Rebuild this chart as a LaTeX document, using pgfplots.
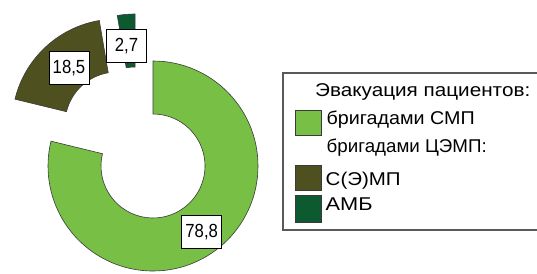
\documentclass[border=0pt]{standalone}
\usepackage{pgfplots}
\pgfplotsset{compat=1.18}
\usepackage{graphicx}
\usepackage{fontspec}
\setmainfont{Liberation Sans}
\newfontfamily\labfont[FakeStretch=0.88]{Liberation Sans}
\definecolor{cSMP}{HTML}{77BF45}
\definecolor{cSEMP}{HTML}{4F5020}
\definecolor{cAMB}{HTML}{0E5A30}
\definecolor{cEdge}{HTML}{3A3A3A}
\newcommand\fitw[2]{\resizebox{#1}{\height}{#2}}
\begin{document}
\begin{tikzpicture}
% data (percent)
\def\vA{78.8}\def\vB{18.5}\def\vC{2.7}
\pgfmathsetmacro\aO{90}
\pgfmathsetmacro\aA{\aO-3.6*\vA}
\pgfmathsetmacro\aB{\aA-3.6*\vB}
\pgfmathsetmacro\aC{\aB-3.6*\vC}
\def\Ro{105bp}\def\Ri{52bp}
\begin{axis}[name=ax, x=1bp, y=1bp, xmin=0, xmax=537, ymin=0, ymax=273,
  hide axis, clip=false]
  \coordinate (cA) at (axis cs:153,107);
  \coordinate (cB) at (axis cs:117,149);
  \coordinate (cC) at (axis cs:135,154);
  % slices
  \filldraw[fill=cSMP, draw=cEdge, line width=0.6bp]
    ([shift={(\aO:\Ro)}]cA) arc[start angle=\aO, end angle=\aA, radius=\Ro]
    -- ([shift={(\aA:\Ri)}]cA) arc[start angle=\aA, end angle=\aO, radius=\Ri] -- cycle;
  \filldraw[fill=cSEMP, draw=cEdge, line width=0.6bp]
    ([shift={(\aA:\Ro)}]cB) arc[start angle=\aA, end angle=\aB, radius=\Ro]
    -- ([shift={(\aB:\Ri)}]cB) arc[start angle=\aB, end angle=\aA, radius=\Ri] -- cycle;
  \filldraw[fill=cAMB, draw=cEdge, line width=0.6bp]
    ([shift={(\aB:\Ro)}]cC) arc[start angle=\aB, end angle=\aC, radius=\Ro]
    -- ([shift={(\aC:\Ri)}]cC) arc[start angle=\aC, end angle=\aB, radius=\Ri] -- cycle;
  % value labels
  \tikzset{vlab/.style={draw=black, fill=white, line width=0.8bp, font=\labfont\fontsize{19bp}{19bp}\selectfont,
     inner sep=0pt, minimum width=40bp, minimum height=33bp}}
  \node[vlab] at (axis cs:201.7,40.7) {78,8};
  \node[vlab] at (axis cs:69,204.7) {18,5};
  \node[vlab] at (axis cs:126.5,227) {2,7};
  % legend
  \draw[draw=black!65, line width=1.3bp, fill=white] (axis cs:283,43) rectangle (axis cs:545,200);
  \tikzset{ltxt/.style={anchor=base west, inner sep=0pt, font=\fontsize{18.5bp}{18.5bp}\selectfont}}
  \node[ltxt] at (axis cs:315,176.7) {\fitw{215bp}{Эвакуация пациентов:}};
  \filldraw[fill=cSMP, draw=cEdge, line width=0.6bp] (axis cs:295,138) rectangle (axis cs:321,163);
  \node[ltxt] at (axis cs:326.5,148.3) {\fitw{148bp}{бригадами СМП}};
  \node[ltxt] at (axis cs:326.5,121) {\fitw{160bp}{бригадами ЦЭМП:}};
  \filldraw[fill=cSEMP, draw=cEdge, line width=0.6bp] (axis cs:295,83) rectangle (axis cs:321,108);
  \node[ltxt] at (axis cs:325.5,88) {\fitw{75bp}{С(Э)МП}};
  \filldraw[fill=cAMB, draw=cEdge, line width=0.6bp] (axis cs:295,51) rectangle (axis cs:321,78);
  \node[ltxt] at (axis cs:325.5,63) {\fitw{47bp}{АМБ}};
\end{axis}
\pgfresetboundingbox
\path[use as bounding box] (ax.south west) rectangle (ax.north east);
\end{tikzpicture}
\end{document}
